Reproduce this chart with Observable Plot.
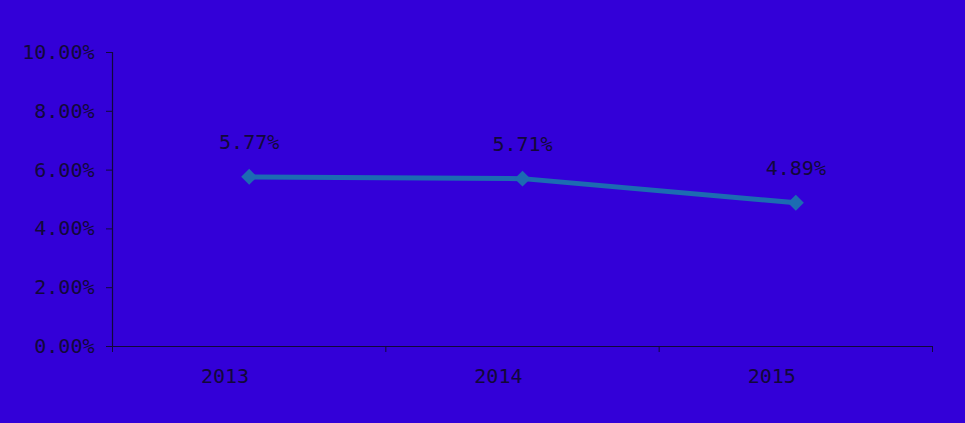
<!DOCTYPE html>
<html>
<head>
<meta charset="utf-8">
<script src="https://cdn.jsdelivr.net/npm/d3@7"></script>
<script src="https://cdn.jsdelivr.net/npm/@observablehq/plot@0.6"></script>
<style>
  html, body { margin: 0; padding: 0; background: #3300d8; }
  #chart svg { display: block; }
</style>
</head>
<body>
<div id="chart"></div>
<script>
const years = [2013, 2014, 2015];
const rates = [5.77, 5.71, 4.89];
const yTicks = [0, 2, 4, 6, 8, 10];
const bandEdges = [2012.5, 2013.5, 2014.5, 2015.5];

const data = years.map((y, i) => ({year: y, rate: rates[i]}));
const ink = "#12083a";
const lineColor = "#1c6bb2";
const font = "'DejaVu Sans Mono', monospace";

const chart = Plot.plot({
  width: 965,
  height: 423,
  marginLeft: 112,
  marginRight: 33,
  marginTop: 52,
  marginBottom: 77,
  style: {background: "#3300d8", fontFamily: font, fontSize: "20px", color: ink},
  x: {domain: [2012.5, 2015.5], axis: null, label: null},
  y: {domain: [0, 10], axis: null, label: null},
  marks: [
    Plot.ruleY([0], {stroke: ink, strokeWidth: 1.2}),
    Plot.ruleX([bandEdges[0]], {y1: 0, y2: 10, stroke: ink, strokeWidth: 1.2}),
    Plot.axisY({ticks: yTicks, tickSize: 6, tickPadding: 12, stroke: ink, fill: ink, label: null,
      tickFormat: d => d.toFixed(2) + "%", fontSize: 20, fontFamily: font}),
    Plot.axisX({ticks: bandEdges, tickSize: 6, tickFormat: () => "", stroke: ink, label: null}),
    Plot.axisX({ticks: years, tickSize: 0, tickPadding: 22, fill: ink, label: null, textAnchor: "end",
      tickFormat: d => String(d), fontSize: 20, fontFamily: font}),
    Plot.line(data, {x: "year", y: "rate", stroke: lineColor, strokeWidth: 5}),
    Plot.dot(data, {x: "year", y: "rate", symbol: "diamond2", r: 7.2, fill: lineColor, stroke: "none"}),
    Plot.text(data, {x: "year", y: "rate", text: d => d.rate.toFixed(2) + "%", dy: -34,
      fill: ink, fontSize: 20, fontFamily: font})
  ]
});
document.getElementById("chart").appendChild(chart);
</script>
</body>
</html>
